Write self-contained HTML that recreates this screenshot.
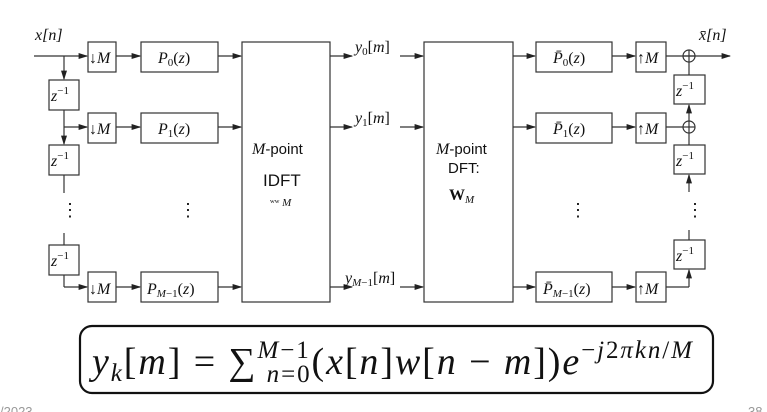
<!DOCTYPE html>
<html><head><meta charset="utf-8"><style>
body{margin:0;background:#fff;width:767px;height:412px;overflow:hidden}
svg{display:block}
text{font-family:"Liberation Serif",serif;fill:#111}
.i{font-style:italic}
.s{font-family:"Liberation Sans",sans-serif}
</style></head><body>
<svg width="767" height="412" viewBox="0 0 767 412">
<defs><marker id="a" markerWidth="8" markerHeight="6" refX="7" refY="3" orient="auto"><path d="M0,0.5 L8,3 L0,5.5z" fill="#222"/></marker></defs>
<g stroke="#333" stroke-width="1.2" fill="none">
<line x1="34" y1="56" x2="87" y2="56" marker-end="url(#a)"/>
<line x1="64" y1="56" x2="64" y2="79" marker-end="url(#a)"/>
<line x1="64" y1="110" x2="64" y2="144" marker-end="url(#a)"/>
<line x1="64" y1="127" x2="87" y2="127" marker-end="url(#a)"/>
<line x1="64" y1="175" x2="64" y2="193"/>
<line x1="64" y1="233" x2="64" y2="245"/>
<line x1="64" y1="275" x2="64" y2="287"/>
<line x1="64" y1="287" x2="87" y2="287" marker-end="url(#a)"/>
<rect x="88" y="42" width="28" height="30" fill="#fff"/>
<rect x="88" y="113" width="28" height="30" fill="#fff"/>
<rect x="88" y="272" width="28" height="30" fill="#fff"/>
<rect x="49" y="80" width="30" height="30" fill="#fff"/>
<rect x="49" y="145" width="30" height="30" fill="#fff"/>
<rect x="49" y="245" width="30" height="30" fill="#fff"/>
<line x1="116" y1="56" x2="140" y2="56" marker-end="url(#a)"/>
<line x1="116" y1="127" x2="140" y2="127" marker-end="url(#a)"/>
<line x1="116" y1="287" x2="140" y2="287" marker-end="url(#a)"/>
<rect x="141" y="42" width="77" height="30"/>
<rect x="141" y="113" width="77" height="30"/>
<rect x="141" y="272" width="77" height="30"/>
<line x1="218" y1="56" x2="241" y2="56" marker-end="url(#a)"/>
<line x1="218" y1="127" x2="241" y2="127" marker-end="url(#a)"/>
<line x1="218" y1="287" x2="241" y2="287" marker-end="url(#a)"/>
<rect x="242" y="42" width="88" height="260"/>
<line x1="330" y1="56" x2="352" y2="56" marker-end="url(#a)"/>
<line x1="330" y1="127" x2="352" y2="127" marker-end="url(#a)"/>
<line x1="330" y1="287" x2="352" y2="287" marker-end="url(#a)"/>
<line x1="400" y1="56" x2="423" y2="56" marker-end="url(#a)"/>
<line x1="400" y1="127" x2="423" y2="127" marker-end="url(#a)"/>
<line x1="400" y1="287" x2="423" y2="287" marker-end="url(#a)"/>
<rect x="424" y="42" width="89" height="260"/>
<line x1="513" y1="56" x2="535" y2="56" marker-end="url(#a)"/>
<line x1="513" y1="127" x2="535" y2="127" marker-end="url(#a)"/>
<line x1="513" y1="287" x2="535" y2="287" marker-end="url(#a)"/>
<rect x="536" y="42" width="76" height="30"/>
<rect x="536" y="113" width="76" height="30"/>
<rect x="536" y="272" width="76" height="30"/>
<line x1="612" y1="56" x2="635" y2="56" marker-end="url(#a)"/>
<line x1="612" y1="127" x2="635" y2="127" marker-end="url(#a)"/>
<line x1="612" y1="287" x2="635" y2="287" marker-end="url(#a)"/>
<rect x="636" y="42" width="30" height="30"/>
<rect x="636" y="113" width="30" height="30"/>
<rect x="636" y="272" width="30" height="30"/>
<line x1="666" y1="56" x2="730" y2="56" marker-end="url(#a)"/>
<line x1="666" y1="127" x2="683" y2="127"/>
<line x1="666" y1="287" x2="689" y2="287"/>
<line x1="689" y1="287" x2="689" y2="270" marker-end="url(#a)"/>
<line x1="689" y1="240" x2="689" y2="230"/>
<line x1="689" y1="192" x2="689" y2="175" marker-end="url(#a)"/>
<line x1="689" y1="145" x2="689" y2="133"/>
<line x1="689" y1="121" x2="689" y2="105" marker-end="url(#a)"/>
<line x1="689" y1="75" x2="689" y2="62"/>
<circle cx="689" cy="56" r="6"/><line x1="683" y1="56" x2="695" y2="56"/><line x1="689" y1="50" x2="689" y2="62"/>
<circle cx="689" cy="127" r="6"/><line x1="683" y1="127" x2="695" y2="127"/><line x1="689" y1="121" x2="689" y2="133"/>
<rect x="674" y="75" width="31" height="29" fill="#fff"/>
<rect x="674" y="145" width="31" height="29" fill="#fff"/>
<rect x="674" y="240" width="31" height="29" fill="#fff"/>
<rect x="80" y="326" width="633" height="67" rx="12" stroke="#111" stroke-width="2.2"/>
</g>
<g font-size="16">
<text x="35" y="40" class="i">x[n]</text>
<text x="89" y="63">↓<tspan class="i">M</tspan></text>
<text x="89" y="134">↓<tspan class="i">M</tspan></text>
<text x="89" y="294">↓<tspan class="i">M</tspan></text>
<text x="51" y="101"><tspan class="i">z</tspan><tspan font-size="11" dy="-7">−1</tspan></text>
<text x="51" y="166"><tspan class="i">z</tspan><tspan font-size="11" dy="-7">−1</tspan></text>
<text x="51" y="266"><tspan class="i">z</tspan><tspan font-size="11" dy="-7">−1</tspan></text>
<text x="158" y="63"><tspan class="i">P</tspan><tspan font-size="11" dy="3">0</tspan><tspan dy="-3">(</tspan><tspan class="i">z</tspan>)</text>
<text x="158" y="134"><tspan class="i">P</tspan><tspan font-size="11" dy="3">1</tspan><tspan dy="-3">(</tspan><tspan class="i">z</tspan>)</text>
<text x="147" y="294"><tspan class="i">P</tspan><tspan font-size="11" dy="3"><tspan class="i">M</tspan>−1</tspan><tspan dy="-3">(</tspan><tspan class="i">z</tspan>)</text>
<text x="252" y="154"><tspan class="i">M</tspan><tspan class="s" font-size="15">-point</tspan></text>
<text x="263" y="186" class="s" font-size="17">IDFT</text>
<text x="270" y="206" font-size="11">ʷʷ <tspan class="i">M</tspan></text>
<text x="355" y="52"><tspan class="i">y</tspan><tspan font-size="11" dy="3">0</tspan><tspan dy="-3">[</tspan><tspan class="i">m</tspan>]</text>
<text x="355" y="123"><tspan class="i">y</tspan><tspan font-size="11" dy="3">1</tspan><tspan dy="-3">[</tspan><tspan class="i">m</tspan>]</text>
<text x="345" y="283"><tspan class="i">y</tspan><tspan font-size="11" dy="3"><tspan class="i">M</tspan>−1</tspan><tspan dy="-3">[</tspan><tspan class="i">m</tspan>]</text>
<text x="436" y="154"><tspan class="i">M</tspan><tspan class="s" font-size="15">-point</tspan></text>
<text x="448" y="173" class="s" font-size="15">DFT:</text>
<text x="449" y="200" font-weight="bold">W<tspan font-size="11" dy="3" font-weight="normal" class="i">M</tspan></text>
<text x="553" y="63"><tspan class="i">P̄</tspan><tspan font-size="11" dy="3">0</tspan><tspan dy="-3">(</tspan><tspan class="i">z</tspan>)</text>
<text x="553" y="134"><tspan class="i">P̄</tspan><tspan font-size="11" dy="3">1</tspan><tspan dy="-3">(</tspan><tspan class="i">z</tspan>)</text>
<text x="543" y="294"><tspan class="i">P̄</tspan><tspan font-size="11" dy="3"><tspan class="i">M</tspan>−1</tspan><tspan dy="-3">(</tspan><tspan class="i">z</tspan>)</text>
<text x="637" y="63">↑<tspan class="i">M</tspan></text>
<text x="637" y="134">↑<tspan class="i">M</tspan></text>
<text x="637" y="294">↑<tspan class="i">M</tspan></text>
<text x="676" y="96"><tspan class="i">z</tspan><tspan font-size="11" dy="-7">−1</tspan></text>
<text x="676" y="166"><tspan class="i">z</tspan><tspan font-size="11" dy="-7">−1</tspan></text>
<text x="676" y="261"><tspan class="i">z</tspan><tspan font-size="11" dy="-7">−1</tspan></text>
<text x="699" y="40" class="i">x̄[n]</text>
<text x="61" y="216" font-size="18">⋮</text>
<text x="179" y="216" font-size="18">⋮</text>
<text x="569" y="216" font-size="18">⋮</text>
<text x="686" y="216" font-size="18">⋮</text>
</g>
<text x="92" y="374" font-size="38" textLength="600" lengthAdjust="spacing"><tspan class="i">y</tspan><tspan class="i" font-size="25" dy="7">k</tspan><tspan dy="-7">[</tspan><tspan class="i">m</tspan>] = ∑<tspan class="i" font-size="25" dy="-16">M</tspan><tspan font-size="25">−1</tspan><tspan class="i" font-size="25" dx="-44" dy="24">n</tspan><tspan font-size="25">=0</tspan><tspan dy="-8">(</tspan><tspan class="i">x</tspan>[<tspan class="i">n</tspan>]<tspan class="i">w</tspan>[<tspan class="i">n</tspan> − <tspan class="i">m</tspan>])<tspan class="i">e</tspan><tspan font-size="25" dy="-16">−</tspan><tspan class="i" font-size="25">j</tspan><tspan font-size="25">2</tspan><tspan class="i" font-size="25">πkn</tspan><tspan font-size="25">/</tspan><tspan class="i" font-size="25">M</tspan></text>
<text x="0" y="416" font-size="13" class="s" style="fill:#999">/2023</text>
<text x="748" y="416" font-size="13" class="s" style="fill:#999">38</text>
</svg>
</body></html>
